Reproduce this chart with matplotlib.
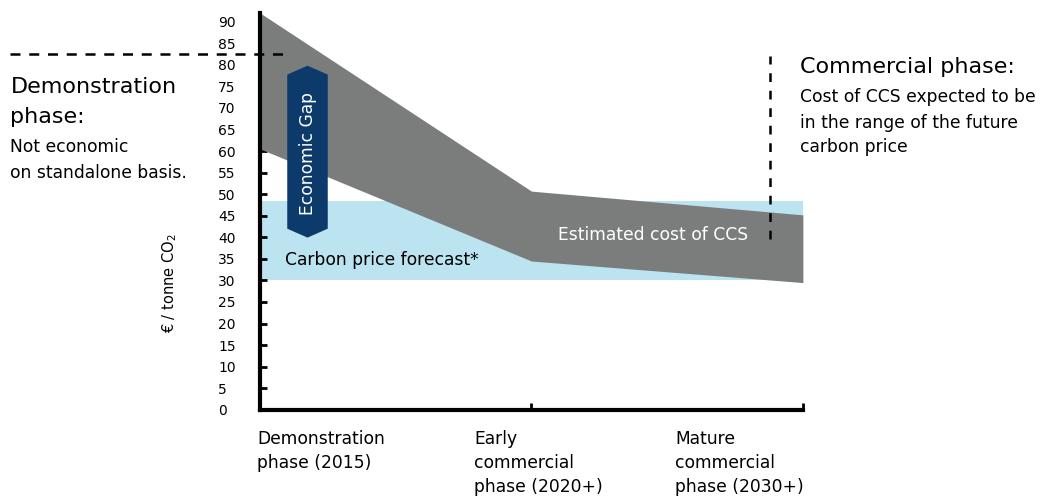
import matplotlib
matplotlib.use("Agg")
from matplotlib import pyplot as plt
from matplotlib.patches import Polygon

plt.rcParams['font.family'] = ['DejaVu Sans']

# phases on the x axis
phases = [0, 1, 2]
phase_labels = ["Demonstration\nphase (2015)",
                "Early\ncommercial\nphase (2020+)",
                "Mature\ncommercial\nphase (2030+)"]

# estimated cost of CCS band (EUR / t CO2)
ccs_high = [92, 50.7, 45.2]
ccs_low = [60.5, 34.5, 29.5]

# carbon price forecast band
carbon_high = [48.5, 48.5, 48.5]
carbon_low = [30, 30, 30]

yticks = list(range(0, 95, 5))

# economic gap marker (x centre, top, bottom)
gap_x = 0.175
gap_top = 79.6
gap_bottom = 40.1

demo_line_y = 82.4
commercial_x = 1.878
commercial_top = 82
commercial_bottom = 39.5

grey = "#7b7d7d"
blue = "#bce3f0"
navy = "#0b3a6b"

fs = 12.3

fig = plt.figure(figsize=(10.4, 4.98), dpi=100)
ax = fig.add_axes([0.25, 0.177, 0.522, 0.797])

ax.fill_between(phases, carbon_low, carbon_high, color=blue, lw=0, zorder=1)
ax.fill_between(phases, ccs_low, ccs_high, color=grey, lw=0, zorder=2)

# economic gap double arrow
hw = 0.072
tip = 2.0
gap = Polygon([(gap_x, gap_top), (gap_x + hw, gap_top - tip),
               (gap_x + hw, gap_bottom + tip), (gap_x, gap_bottom),
               (gap_x - hw, gap_bottom + tip), (gap_x - hw, gap_top - tip)],
              closed=True, color=navy, zorder=3)
ax.add_patch(gap)
ax.text(gap_x, 59.5, "Economic Gap", rotation=90,
        color="white", fontsize=fs, ha="center", va="center", zorder=4)

ax.text(0.092, 34.8, "Carbon price forecast*", fontsize=fs, color="black",
        ha="left", va="center", zorder=4)
ax.text(1.797, 40.6, "Estimated cost of CCS", fontsize=fs, color="white",
        ha="right", va="center", zorder=4)

ax.set_xlim(0, 2)
ax.set_ylim(0, 92)
ax.set_yticks(yticks)
ax.set_yticklabels([str(t) for t in yticks], fontsize=10, ha="left")
ax.set_xticks([1, 2])
ax.set_xticklabels([])
ax.tick_params(axis="y", direction="in", length=5, width=2, pad=30)
ax.tick_params(axis="x", direction="in", length=5, width=2)
for s in ["top", "right"]:
    ax.spines[s].set_visible(False)
for s in ["left", "bottom"]:
    ax.spines[s].set_linewidth(3)
    ax.spines[s].set_zorder(5)

ax.set_ylabel("€ / tonne CO$_2$", fontsize=10.5)
ax.yaxis.set_label_coords(-0.15, 0.32)

# phase labels below the axis
label_x = [-0.01, 0.79, 1.53]
for x, lab in zip(label_x, phase_labels):
    ax.text(x, -4.6, lab, fontsize=fs, ha="left", va="top",
            linespacing=1.45, clip_on=False)

# dashed guide lines
ax.plot([-0.92, 0.09], [demo_line_y, demo_line_y], ls=(0, (4, 3.5)),
        color="black", lw=1.8, clip_on=False, zorder=6)
ax.plot([commercial_x, commercial_x], [commercial_bottom, commercial_top],
        ls=(0, (3.5, 3.5)), color="black", lw=1.8, clip_on=False, zorder=6)

# side annotations
fig.text(0.01, 0.8133, "Demonstration", fontsize=16, ha="left", va="baseline")
fig.text(0.01, 0.753, "phase:", fontsize=16, ha="left", va="baseline")
fig.text(0.01, 0.6948, "Not economic", fontsize=fs, ha="left", va="baseline")
fig.text(0.01, 0.6426, "on standalone basis.", fontsize=fs, ha="left",
         va="baseline")
fig.text(0.769, 0.8534, "Commercial phase:", fontsize=16, ha="left",
         va="baseline")
fig.text(0.769, 0.7952, "Cost of CCS expected to be", fontsize=fs,
         ha="left", va="baseline")
fig.text(0.769, 0.743, "in the range of the future", fontsize=fs,
         ha="left", va="baseline")
fig.text(0.769, 0.6948, "carbon price", fontsize=fs, ha="left",
         va="baseline")

fig.savefig("out.png", dpi=100)
